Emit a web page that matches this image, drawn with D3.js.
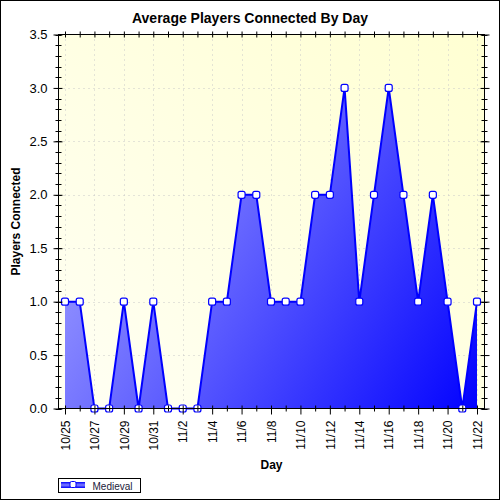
<!DOCTYPE html>
<html>
<head>
<meta charset="utf-8">
<script src="https://cdn.jsdelivr.net/npm/d3@7"></script>
<style>
  body { margin: 0; background: #fff; }
  svg { display: block; font-family: 'Liberation Sans', Arial, sans-serif; }
</style>
</head>
<body>
<svg></svg>
<script>
// day labels, one per point
let days = ['10/25', '10/26', '10/27', '10/28', '10/29', '10/30', '10/31',
            '11/1', '11/2', '11/3', '11/4', '11/5', '11/6', '11/7', '11/8',
            '11/9', '11/10', '11/11', '11/12', '11/13', '11/14', '11/15',
            '11/16', '11/17', '11/18', '11/19', '11/20', '11/21', '11/22'];
let players = [1, 1, 0, 0, 1, 0, 1, 0, 0, 0, 1, 1, 2, 2, 1,
               1, 1, 2, 2, 3, 1, 2, 3, 2, 1, 2, 1, 0, 1];
let yTicks = [0, 0.5, 1, 1.5, 2, 2.5, 3, 3.5];
let seriesName = 'Medieval';

let width = 500;
let height = 500;
let pLeft = 58.5, pRight = 484.5, pTop = 34.5, pBottom = 408.5;

let svg = d3.select('svg')
            .attr('width', width)
            .attr('height', height);

let defs = svg.append('defs');

let bgGrad = defs.append('linearGradient')
                 .attr('id', 'bg')
                 .attr('x1', 0).attr('y1', 1).attr('x2', 1).attr('y2', 0);
bgGrad.append('stop').attr('offset', 0).attr('stop-color', '#fffff4');
bgGrad.append('stop').attr('offset', 1).attr('stop-color', '#ffffd2');

let areaGrad = defs.append('linearGradient')
                   .attr('id', 'areaFill')
                   .attr('gradientUnits', 'userSpaceOnUse')
                   .attr('x1', pLeft).attr('y1', pTop + 120)
                   .attr('x2', pRight).attr('y2', pBottom);
areaGrad.append('stop').attr('offset', 0).attr('stop-color', '#a6a6ff');
areaGrad.append('stop').attr('offset', 1).attr('stop-color', '#0000ff');

let legGrad = defs.append('linearGradient')
                  .attr('id', 'legFill')
                  .attr('x1', 0).attr('y1', 0).attr('x2', 0).attr('y2', 1);
legGrad.append('stop').attr('offset', 0).attr('stop-color', '#0000ff');
legGrad.append('stop').attr('offset', 0.5).attr('stop-color', '#8080ff');
legGrad.append('stop').attr('offset', 1).attr('stop-color', '#0000ff');

// outer frame
svg.append('rect')
   .attr('x', 0.5).attr('y', 0.5)
   .attr('width', width - 1).attr('height', height - 1)
   .attr('fill', '#fff')
   .attr('stroke', '#000');

let xScale = d3.scalePoint()
               .domain(days)
               .range([65, 477]);

let yScale = d3.scaleLinear()
               .domain([0, 3.5])
               .range([pBottom, pTop]);

// plot background
svg.append('rect')
   .attr('x', pLeft).attr('y', pTop)
   .attr('width', pRight - pLeft).attr('height', pBottom - pTop)
   .attr('fill', 'url(#bg)');

// grid
let labelDays = days.filter((d, i) => i % 2 === 0);
svg.append('g')
   .selectAll('line')
   .data(labelDays)
   .enter()
   .append('line')
   .attr('x1', d => Math.round(xScale(d)) + 0.5)
   .attr('x2', d => Math.round(xScale(d)) + 0.5)
   .attr('y1', pTop).attr('y2', pBottom)
   .attr('stroke', '#c8c8c8')
   .attr('stroke-dasharray', '1,4');

svg.append('g')
   .selectAll('line')
   .data(yTicks.slice(1, -1))
   .enter()
   .append('line')
   .attr('x1', pLeft).attr('x2', pRight)
   .attr('y1', d => Math.round(yScale(d)) + 0.5)
   .attr('y2', d => Math.round(yScale(d)) + 0.5)
   .attr('stroke', '#c8c8c8')
   .attr('stroke-dasharray', '1,4');

// area + line
let area = d3.area()
             .x(d => xScale(d.day))
             .y0(yScale(0))
             .y1(d => yScale(d.value));
let line = d3.line()
             .x(d => xScale(d.day))
             .y(d => yScale(d.value));

let points = days.map((d, i) => ({ day: d, value: players[i] }));

svg.append('path')
   .datum(points)
   .attr('d', area)
   .attr('fill', 'url(#areaFill)');

svg.append('path')
   .datum(points)
   .attr('d', line)
   .attr('fill', 'none')
   .attr('stroke', '#0000ff')
   .attr('stroke-width', 2);

svg.append('g')
   .selectAll('rect')
   .data(points)
   .enter()
   .append('rect')
   .attr('x', d => xScale(d.day) - 3.5)
   .attr('y', d => yScale(d.value) - 3.5)
   .attr('width', 7).attr('height', 7)
   .attr('rx', 2)
   .attr('fill', '#fff')
   .attr('stroke', '#0000ff')
   .attr('stroke-width', 1.2);

// axes
let minorY = d3.range(0, 3.5001, 0.1);

let yAxis = d3.axisLeft(yScale)
              .tickValues(yTicks)
              .tickFormat(d3.format('.1f'))
              .tickSizeInner(5)
              .tickSizeOuter(0)
              .tickPadding(6);
let yg = svg.append('g')
            .attr('transform', `translate(${pLeft}, 0)`)
            .call(yAxis);
yg.selectAll('text').attr('font-size', 13).attr('fill', '#000');
yg.selectAll('.tick line').attr('x2', -5).attr('x1', 4);

// minor ticks left and right
svg.append('g')
   .selectAll('line')
   .data(minorY)
   .enter()
   .append('line')
   .attr('x1', pLeft - 3).attr('x2', pLeft + 3)
   .attr('y1', d => Math.round(yScale(d)) + 0.5)
   .attr('y2', d => Math.round(yScale(d)) + 0.5)
   .attr('stroke', '#000');

let yRight = d3.axisRight(yScale)
               .tickValues(yTicks)
               .tickFormat('')
               .tickSizeOuter(0);
let yrg = svg.append('g')
             .attr('transform', `translate(${pRight}, 0)`)
             .call(yRight);
yrg.selectAll('.tick line').attr('x1', -4).attr('x2', 5);
svg.append('g')
   .selectAll('line')
   .data(minorY)
   .enter()
   .append('line')
   .attr('x1', pRight - 3).attr('x2', pRight + 3)
   .attr('y1', d => Math.round(yScale(d)) + 0.5)
   .attr('y2', d => Math.round(yScale(d)) + 0.5)
   .attr('stroke', '#000');

let xAxis = d3.axisBottom(xScale)
              .tickFormat(d => labelDays.includes(d) ? d : '')
              .tickSizeOuter(0)
              .tickPadding(8);
let xg = svg.append('g')
            .attr('transform', `translate(0, ${pBottom})`)
            .call(xAxis);
xg.selectAll('.tick line')
  .attr('y1', -3)
  .attr('y2', d => labelDays.includes(d) ? 6 : 3);
xg.selectAll('text')
  .attr('font-size', 12)
  .attr('fill', '#000')
  .attr('transform', 'rotate(-90)')
  .attr('text-anchor', 'end')
  .attr('x', -12)
  .attr('y', 0)
  .attr('dy', '0.35em');

let xTop = d3.axisTop(xScale)
             .tickFormat('')
             .tickSizeOuter(0);
let xtg = svg.append('g')
             .attr('transform', `translate(0, ${pTop})`)
             .call(xTop);
xtg.selectAll('.tick line').attr('y1', 3).attr('y2', -3);

svg.selectAll('.domain').remove();
svg.append('rect')
   .attr('x', pLeft).attr('y', pTop)
   .attr('width', pRight - pLeft).attr('height', pBottom - pTop)
   .attr('fill', 'none')
   .attr('stroke', '#000');

// titles
svg.append('text')
   .attr('x', 250)
   .attr('y', 23)
   .attr('text-anchor', 'middle')
   .attr('font-size', 14)
   .attr('font-weight', 'bold')
   .text('Average Players Connected By Day');

svg.append('text')
   .attr('x', (pLeft + pRight) / 2)
   .attr('y', 469)
   .attr('text-anchor', 'middle')
   .attr('font-size', 12)
   .attr('font-weight', 'bold')
   .text('Day');

svg.append('text')
   .attr('transform', `translate(20, ${(pTop + pBottom) / 2}) rotate(-90)`)
   .attr('text-anchor', 'middle')
   .attr('font-size', 12)
   .attr('font-weight', 'bold')
   .text('Players Connected');

// legend
let legend = svg.append('g').attr('transform', 'translate(58.5, 478.5)');
legend.append('rect')
      .attr('width', 82).attr('height', 14)
      .attr('fill', '#fff')
      .attr('stroke', '#000');
legend.append('rect')
      .attr('x', 2.5).attr('y', 3.5)
      .attr('width', 24).attr('height', 6)
      .attr('fill', 'url(#legFill)');
legend.append('rect')
      .attr('x', 11.5).attr('y', 3)
      .attr('width', 6).attr('height', 6)
      .attr('rx', 1.5)
      .attr('fill', '#fff')
      .attr('stroke', '#0000ff');
legend.append('text')
      .attr('x', 34)
      .attr('y', 11)
      .attr('font-size', 10)
      .attr('fill', '#1a1a3a')
      .text(seriesName);
</script>
</body>
</html>
